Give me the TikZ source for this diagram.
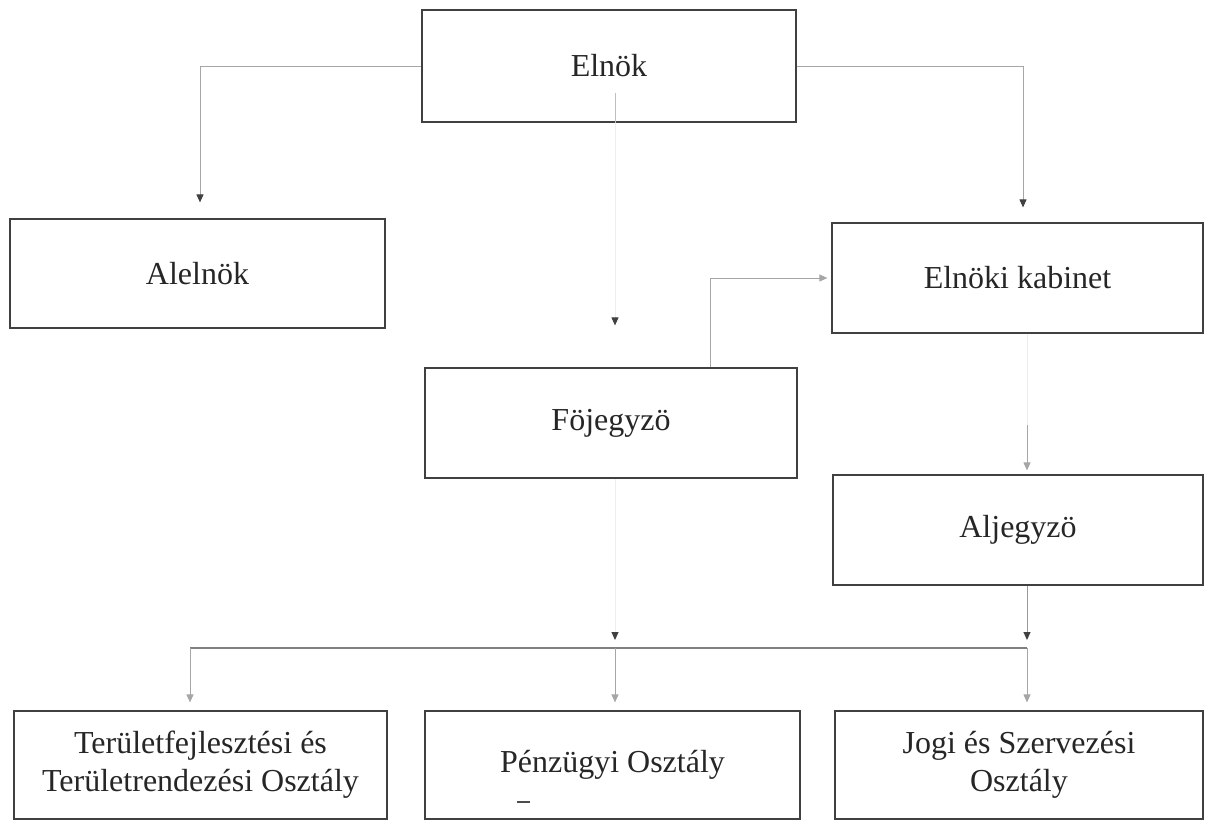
\documentclass[tikz,border=0pt]{standalone}
\usepackage{fontspec}
\setmainfont{Liberation Serif}
\usetikzlibrary{arrows.meta}
\begin{document}
\begin{tikzpicture}[x=0.5pt,y=-0.5pt,
  box/.style={draw=black!75,line width=0.6pt,minimum width=186pt,minimum height=55pt,
    inner sep=0pt,align=center,font=\fontsize{16}{19}\selectfont,text=black!85},
  link/.style={draw=black!35,line width=0.5pt},
  ghost/.style={draw=black!7,line width=0.5pt},
  busline/.style={draw=black!50,line width=0.6pt},
  darktip/.style={-{Triangle[length=4pt,width=3.5pt,color=black!75]}},
  lighttip/.style={-{Triangle[length=4pt,width=3.5pt,color=black!35]}},
]
\useasboundingbox (0,0) rectangle (1205,821);

% boxes
\node[box,minimum width=187pt,minimum height=56pt] (elnok) at (609,66) {Elnök};
\node[box,minimum width=187.5pt,minimum height=54.5pt] (alelnok) at (197.5,273.5) {Alelnök};
\node[box,minimum width=185.5pt] (kabinet) at (1017.5,278) {Elnöki kabinet};
\node[box] (fojegyzo) at (611,423) {Föjegyzö};
\node[box,minimum width=185pt] (aljegyzo) at (1018,530) {Aljegyzö};
\node[box,minimum width=186.5pt,minimum height=54pt] (terulet) at (200.5,765) {Területfejlesztési és\\Területrendezési Osztály};
\node[box,minimum width=187.5pt,minimum height=54pt] (penz) at (612.5,765) {Pénzügyi Osztály};
\node[box,minimum width=184pt,minimum height=54pt] (jogi) at (1019,765) {Jogi és Szervezési\\Osztály};

% helper coordinates
\coordinate (xl) at (190,0);
\coordinate (xa) at (200,0);
\coordinate (xm) at (615,0);
\coordinate (xf) at (710,0);
\coordinate (xk) at (1023,0);
\coordinate (xr) at (1027,0);
\coordinate (ybus) at (0,648);
\coordinate (e1) at (615,93);
\coordinate (k1) at (1027,425);

% connectors
\draw[link,darktip,shorten >=8pt] (elnok.west) -| (alelnok.north -| xa);
\draw[link,darktip,shorten >=7.5pt] (elnok.east) -| (kabinet.north -| xk);
\draw[draw=black!25,line width=0.5pt] (e1) -- (elnok.south -| xm);
\draw[ghost,darktip,shorten >=21pt] (elnok.south -| xm) -- (fojegyzo.north -| xm);
\draw[link,lighttip,shorten >=2pt] (fojegyzo.north -| xf) |- (kabinet.west);
\draw[ghost] (kabinet.south -| xr) -- (k1);
\draw[link,lighttip,shorten >=2pt] (k1) -- (aljegyzo.north -| xr);
\draw[link,draw=black!40,darktip,shorten >=4pt] (aljegyzo.south -| xr) -- (xr |- ybus);
\draw[ghost,darktip,shorten >=4pt] (fojegyzo.south -| xm) -- (xm |- ybus);
\draw[busline] (xr |- ybus) -- (xl |- ybus);
\draw[link,lighttip,shorten >=4pt] (xl |- ybus) -- (terulet.north -| xl);
\draw[link,lighttip,shorten >=4pt] (xm |- ybus) -- (penz.north -| xm);
\draw[link,lighttip,shorten >=4pt] (xr |- ybus) -- (jogi.north -| xr);

% small stray dash under Pénzügyi Osztály
\draw[black!70,line width=0.6pt] (517,802) -- (530,802);
\end{tikzpicture}
\end{document}
